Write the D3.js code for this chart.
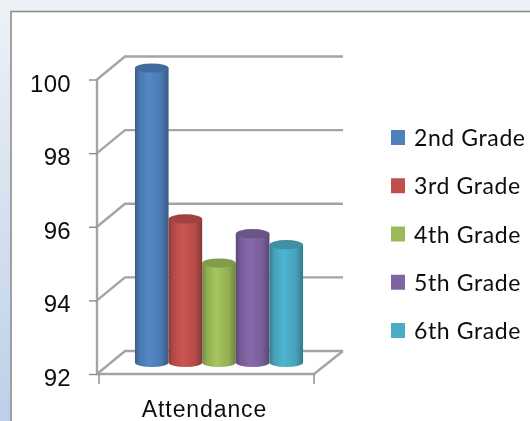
<!DOCTYPE html>
<html>
<head>
<meta charset="utf-8">
<script src="https://d3js.org/d3.v7.min.js"></script>
<style>
  html, body { margin: 0; padding: 0; background: #fff; overflow: hidden; }
  svg { display: block; font-family: Lato, "Open Sans", sans-serif; }
</style>
</head>
<body>
<svg id="chart" width="530" height="421"></svg>
<script>
// Data
const grades = ["2nd Grade", "3rd Grade", "4th Grade", "5th Grade", "6th Grade"];
const attendance = [100, 95.9, 94.7, 95.5, 95.2];
const categories = ["Attendance"];
const yTicks = [92, 94, 96, 98, 100];
const colors = ["#4f81bd", "#c0504d", "#9bbb59", "#8064a2", "#4bacc6"];

const svg = d3.select("#chart");
const defs = svg.append("defs");

// Layout
const plot = { left: 97, right: 314, top: 79.5, bottom: 374 };
const depth = { x: 28, y: 23 };   // Versatz Boden/Rueckwand

const grid = "#a4a4a4";

const y = d3.scaleLinear().domain([92, 100]).range([plot.bottom, plot.top]);
const x0 = d3.scaleBand().domain(categories).range([plot.left, plot.right]).padding(0.127);
const x1 = d3.scaleBand().domain(grades).range([0, x0.bandwidth()]);
const color = d3.scaleOrdinal().domain(grades).range(colors);

// Background
const bg = defs.append("linearGradient")
  .attr("id", "bg").attr("x1", 0).attr("y1", 0).attr("x2", 0).attr("y2", 1);
bg.append("stop").attr("offset", "0%").attr("stop-color", "#eef2f7");
bg.append("stop").attr("offset", "100%").attr("stop-color", "#bdd0e8");

svg.append("rect").attr("width", 530).attr("height", 421).attr("fill", "url(#bg)");
svg.append("rect")
  .attr("x", 11).attr("y", 11.5).attr("width", 540).attr("height", 430)
  .attr("fill", "#fff").attr("stroke", "#8e8e8e").attr("stroke-width", 1.6);

const blur = defs.append("filter").attr("id", "soft");
blur.append("feGaussianBlur").attr("stdDeviation", 0.7);

const shadow = defs.append("filter").attr("id", "lineShadow")
  .attr("x", "-5%").attr("y", "-5%").attr("width", "110%").attr("height", "110%");
shadow.append("feGaussianBlur").attr("stdDeviation", 0.6);

const textSoft = defs.append("filter").attr("id", "textSoft");
textSoft.append("feGaussianBlur").attr("stdDeviation", 0.3);

const g = svg.append("g");

// Gitter: Seitenwand + Rueckwand
const walls = g.append("g")
  .attr("fill", "none").attr("stroke", grid).attr("stroke-width", 2.4)
  .attr("filter", "url(#lineShadow)");

const wallLine = d3.line();
walls.selectAll("path.grid")
  .data(yTicks)
  .enter()
  .append("path")
    .attr("class", "grid")
    .attr("d", d => wallLine([
      [plot.left, y(d)],
      [plot.left + depth.x, y(d) - depth.y],
      [plot.right + depth.x + 1, y(d) - depth.y]
    ]));

// Boden rechts + Vorderkante, linke Achse
walls.append("path").attr("d", wallLine([
  [plot.left, y(100)],
  [plot.left, plot.bottom],
  [plot.right, plot.bottom],
  [plot.right + depth.x + 1, plot.bottom - depth.y]
]));

// Y-Achse
const yAxis = g.append("g")
  .attr("transform", `translate(${plot.left},0)`)
  .call(d3.axisLeft(y).tickValues(yTicks).tickSize(8).tickPadding(18).tickSizeOuter(0));
yAxis.select(".domain").remove();
yAxis.selectAll(".tick line").attr("stroke", "#8a8a8a").attr("stroke-width", 1.4);
yAxis.selectAll("text")
  .attr("fill", "#111")
  .attr("font-size", "24px")
  .attr("letter-spacing", "0.3px")
  .attr("filter", "url(#textSoft)")
  .attr("dy", "0.48em");

// X-Achse
const xAxis = g.append("g")
  .attr("transform", `translate(0,${plot.bottom})`)
  .call(d3.axisBottom(x0).tickSize(0).tickPadding(27));
xAxis.select(".domain").remove();
xAxis.selectAll("text")
  .attr("fill", "#111")
  .attr("font-size", "23px")
  .attr("letter-spacing", "0.9px")
  .attr("filter", "url(#textSoft)")
  .attr("dx", "-1px");

// Tick-Striche an den Bandgrenzen
g.append("g").selectAll("line")
  .data([plot.left + 2, plot.right])
  .enter()
  .append("line")
    .attr("x1", d => d).attr("x2", d => d)
    .attr("y1", plot.bottom).attr("y2", plot.bottom + 10)
    .attr("stroke", "#8a8a8a").attr("stroke-width", 1.4);

// Zylinder
grades.forEach((grade, i) => {
  const c = d3.color(colors[i]);
  const grad = defs.append("linearGradient").attr("id", `cyl${i}`);
  grad.append("stop").attr("offset", "0%").attr("stop-color", c.darker(0.9));
  grad.append("stop").attr("offset", "14%").attr("stop-color", c.darker(0.2));
  grad.append("stop").attr("offset", "42%").attr("stop-color", c.brighter(0.15));
  grad.append("stop").attr("offset", "78%").attr("stop-color", c.darker(0.15));
  grad.append("stop").attr("offset", "100%").attr("stop-color", c.darker(1));
});

const midX = x0(categories[0]) + depth.x / 2 - 0.5;
const midY = depth.y / 2;
const ry = 4.6;

const barData = grades.map((grade, i) => ({ grade, i, value: attendance[i] }));

const bars = g.append("g")
  .attr("filter", "url(#soft)")
  .selectAll("g.cyl")
  .data(barData)
  .enter()
  .append("g")
    .attr("class", "cyl")
    .attr("transform", d => `translate(${midX + x1(d.grade)},${-midY})`);

const rx = x1.bandwidth() / 2;

bars.append("path")
  .attr("fill", d => `url(#cyl${d.i})`)
  .attr("d", d => `M0,${y(d.value)}
    L0,${y(92)}
    A${rx},${ry} 0 0 0 ${2 * rx},${y(92)}
    L${2 * rx},${y(d.value)} Z`);

bars.append("ellipse")
  .attr("cx", rx)
  .attr("cy", d => y(d.value))
  .attr("rx", rx)
  .attr("ry", ry)
  .attr("fill", d => d3.color(color(d.grade)).darker(0.5));

// Legende
const legendY = d3.scalePoint().domain(grades).range([137, 330]);

const legend = g.append("g").selectAll("g")
  .data(grades)
  .enter()
  .append("g")
    .attr("transform", d => `translate(391,${legendY(d)})`);

legend.append("rect")
  .attr("y", -7)
  .attr("width", 14)
  .attr("height", 15)
  .attr("fill", d => color(d));

legend.append("text")
  .attr("x", 23)
  .attr("dy", "0.4em")
  .attr("fill", "#111")
  .attr("font-size", "23px")
  .attr("letter-spacing", "0.6px")
  .attr("filter", "url(#textSoft)")
  .text(d => d);
</script>
</body>
</html>
